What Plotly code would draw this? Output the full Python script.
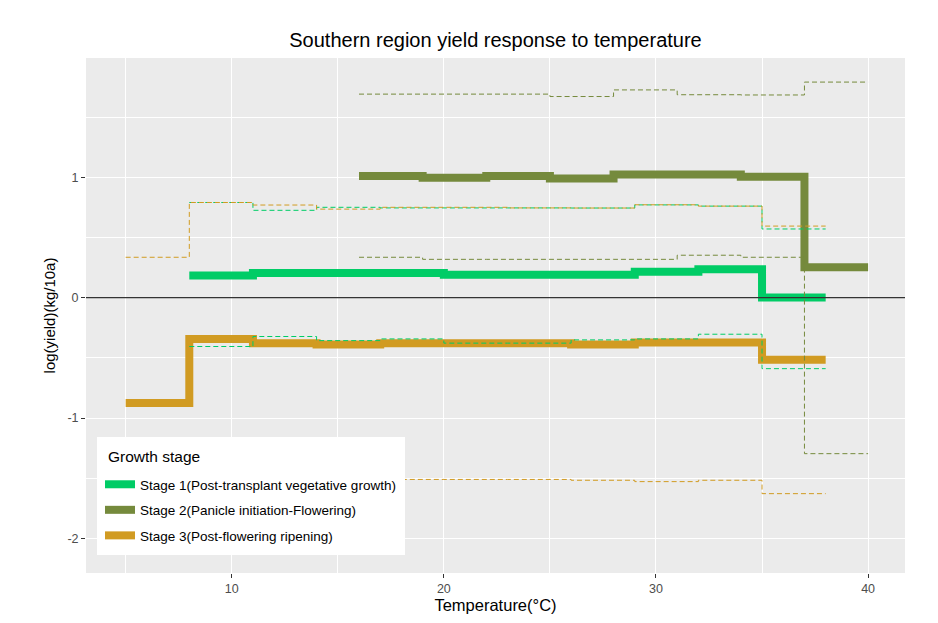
import plotly.graph_objects as go

# Temperature bin starts (3-degree bins) with final end point
temp_s13 = [5, 8, 11, 14, 17, 20, 23, 26, 29, 32, 35, 38]
temp_s1 = [8, 11, 14, 17, 20, 23, 26, 29, 32, 35, 38]
temp_s2 = [16, 19, 22, 25, 28, 31, 34, 37, 40]

# Stage 1 (Post-transplant vegetative growth), values for bins starting at 8
s1_est = [0.183, 0.205, 0.205, 0.205, 0.19, 0.19, 0.19, 0.215, 0.235, 0.0]
s1_upper = [0.79, 0.725, 0.75, 0.745, 0.745, 0.745, 0.744, 0.77, 0.76, 0.57]
s1_lower = [-0.406, -0.323, -0.357, -0.343, -0.378, -0.378, -0.351, -0.343, -0.304, -0.59]

# Stage 2 (Panicle initiation-Flowering), values for bins starting at 16
s2_est = [1.01, 0.995, 1.01, 0.99, 1.023, 1.023, 1.003, 0.252]
s2_upper = [1.69, 1.69, 1.69, 1.67, 1.725, 1.685, 1.683, 1.79]
s2_lower = [0.335, 0.318, 0.318, 0.318, 0.318, 0.352, 0.335, -1.296]

# Stage 3 (Post-flowering ripening), values for bins starting at 5
s3_est = [-0.876, -0.343, -0.378, -0.39, -0.378, -0.378, -0.378, -0.39, -0.373, -0.373, -0.517]
s3_upper = [0.335, 0.79, 0.769, 0.735, 0.75, 0.75, 0.745, 0.744, 0.771, 0.76, 0.594]
s3_lower = [-2.1, -1.49, -1.5, -1.5, -1.51, -1.51, -1.51, -1.517, -1.528, -1.517, -1.628]

names = ["Stage 1(Post-transplant vegetative growth)",
         "Stage 2(Panicle initiation-Flowering)",
         "Stage 3(Post-flowering ripening)"]
colors = ["#00CC66", "#758A3C", "#D19B22"]
legend_title = "Growth stage"

stages = [
    (temp_s1, s1_est, s1_upper, s1_lower),
    (temp_s2, s2_est, s2_upper, s2_lower),
    (temp_s13, s3_est, s3_upper, s3_lower),
]

fig = go.Figure()

def ext(v):
    return list(v) + [v[-1]]

for i, (t, est, up, lo) in enumerate(stages):
    fig.add_trace(go.Scatter(x=t, y=ext(est), mode="lines", line_shape="hv",
                             line=dict(color=colors[i], width=8),
                             name=names[i], legendgroup=names[i]))

for i, (t, est, up, lo) in enumerate(stages):
    for band in (up, lo):
        fig.add_trace(go.Scatter(x=t, y=ext(band), mode="lines", line_shape="hv",
                                 line=dict(color=colors[i], width=1, dash="5px,3px"),
                                 showlegend=False, legendgroup=names[i], hoverinfo="skip"))

fig.add_shape(type="line", xref="paper", x0=0, x1=1, yref="y", y0=0, y1=0,
              line=dict(color="#333333", width=1.2), layer="above")

font_family = "Liberation Sans, Arial, sans-serif"

# page body has an 8px margin, so the figure is sized/offset accordingly
W, H = 930, 615
PL, PR, PT, PB = 86, 905, 58, 573   # panel edges in page pixels
pw, ph = PR - PL, PB - PT

def px(xp):
    return (xp - PL) / pw

def py(yp):
    return (PB - yp) / ph

# legend box (white background) as shape, title as annotation
fig.add_shape(type="rect", xref="paper", yref="paper",
              x0=px(97), x1=px(405), y0=py(555), y1=py(437),
              fillcolor="white", line=dict(width=0), layer="above")
fig.add_annotation(text=legend_title, xref="paper", yref="paper",
                   x=px(106), y=py(456), xanchor="left", yanchor="middle",
                   showarrow=False, font=dict(size=15.5, color="#000000"))

fig.update_layout(
    width=W, height=H,
    margin=dict(l=78, r=33, t=50, b=42),
    paper_bgcolor="white",
    plot_bgcolor="#EBEBEB",
    font=dict(family=font_family, color="#000000"),
    title=dict(text="Southern region yield response to temperature",
               x=0.5, xref="paper", xanchor="center",
               y=1 - 32 / H, yref="container", yanchor="middle",
               font=dict(size=20, color="#000000", family=font_family)),
    showlegend=True,
    legend=dict(
        x=px(100), y=py(469), xanchor="left", yanchor="top",
        bgcolor="rgba(0,0,0,0)", borderwidth=0,
        font=dict(size=13.5, color="#000000"),
        itemwidth=30, tracegroupgap=5,
    ),
    xaxis=dict(
        range=[3.13, 41.74],
        tickvals=[10, 20, 30, 40],
        ticks="outside", ticklen=4, tickcolor="#333333", tickwidth=1,
        tickfont=dict(size=12.5, color="#4D4D4D"),
        showgrid=True, gridcolor="white", gridwidth=1.1,
        minor=dict(tickvals=[5, 15, 25, 35], showgrid=True, gridcolor="white", gridwidth=0.5),
        zeroline=False, showline=False,
        title=dict(text="Temperature(°C)", font=dict(size=16.5, color="#000000"), standoff=3),
    ),
    yaxis=dict(
        range=[-2.287, 1.99],
        tickvals=[-2, -1, 0, 1],
        ticktext=["-2", "-1", "0", "1"],
        ticks="outside", ticklen=4, tickcolor="#333333", tickwidth=1,
        tickfont=dict(size=12.5, color="#4D4D4D"),
        showgrid=True, gridcolor="white", gridwidth=1.1,
        minor=dict(tickvals=[-1.5, -0.5, 0.5, 1.5], showgrid=True, gridcolor="white", gridwidth=0.5),
        zeroline=False, showline=False,
        title=dict(text="log(yield)(kg/10a)", font=dict(size=15, color="#000000"), standoff=8),
    ),
)

fig.write_html("out.html")
